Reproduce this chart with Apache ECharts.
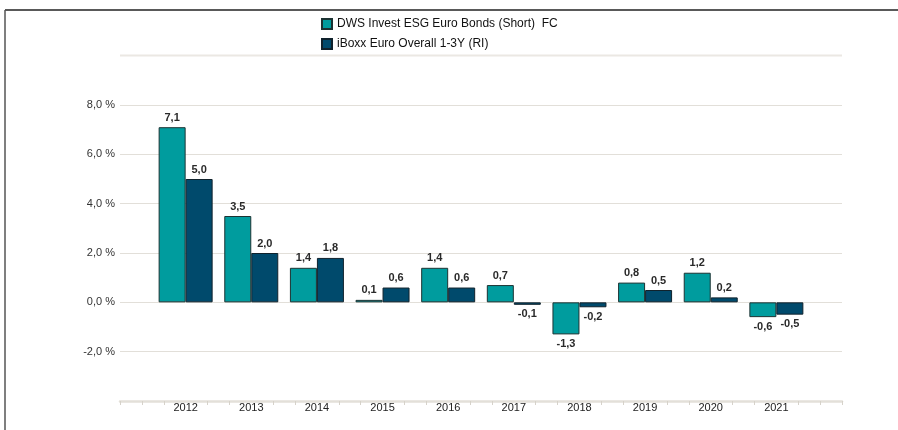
<!DOCTYPE html>
<html><head><meta charset="utf-8">
<script src="https://cdn.jsdelivr.net/npm/echarts@6/dist/echarts.min.js"></script>
<style>html,body{margin:0;padding:0;background:#fff}#c{width:898px;height:430px}</style>
</head><body><div id="c"></div>
<script>
const years = ['2012','2013','2014','2015','2016','2017','2018','2019','2020','2021'];
const seriesNames = ['DWS Invest ESG Euro Bonds (Short)  FC', 'iBoxx Euro Overall 1-3Y (RI)'];
const dwsValues = [7.1, 3.5, 1.4, 0.1, 1.4, 0.7, -1.3, 0.8, 1.2, -0.6];
const iboxxValues = [5.0, 2.0, 1.8, 0.6, 0.6, -0.1, -0.2, 0.5, 0.2, -0.5];
const yTicks = [-4, -2, 0, 2, 4, 6, 8];

const FONT = '"Liberation Sans", Arial, sans-serif';
const cats = [''].concat(years).concat(['']);
const fmt = v => v.toFixed(1).replace('.', ',');
function mk(vals) {
  return [null].concat(vals.map(v => ({
    value: v,
    label: { position: v < 0 ? 'bottom' : 'top' }
  }))).concat([null]);
}
const tickCats = [];
for (let i = 0; i <= 33; i++) tickCats.push(String(i));

const chart = echarts.init(document.getElementById('c'));
chart.setOption({
  animation: false,
  textStyle: { fontFamily: FONT },
  graphic: [
    { type: 'line', shape: { x1: 5, y1: 10, x2: 898, y2: 10 }, style: { stroke: '#222', lineWidth: 1.5 } },
    { type: 'line', shape: { x1: 5, y1: 10, x2: 5, y2: 430 }, style: { stroke: '#555', lineWidth: 1.5 } },
    { type: 'line', shape: { x1: 120, y1: 55.5, x2: 842, y2: 55.5 }, style: { stroke: '#ebe8e3', lineWidth: 2 } }
  ],
  legend: {
    orient: 'vertical', left: 316, top: 13, itemGap: 8,
    itemWidth: 10, itemHeight: 10,
    textStyle: { fontFamily: FONT, fontSize: 12, color: '#111' },
    data: seriesNames.map(n => ({ name: n, icon: 'rect' }))
  },
  grid: { left: 120, right: 56, top: 105, bottom: 29 },
  xAxis: [
    { type: 'category', data: cats, boundaryGap: false,
      axisLine: { show: false }, axisTick: { show: false },
      axisLabel: { color: '#222', fontSize: 11, margin: 1, fontFamily: FONT, interval: 0 },
      splitLine: { show: false } },
    { type: 'category', data: tickCats, boundaryGap: false, position: 'bottom',
      axisLine: { show: true, lineStyle: { color: '#e3e0d9', width: 2.5 } },
      axisTick: { show: true, length: 4, lineStyle: { color: '#d6d2ca', width: 1 },
        interval: (i) => (i % 3 !== 0) || i === 0 || i === 33 },
      axisLabel: { show: false }, splitLine: { show: false } }
  ],
  yAxis: {
    type: 'value', min: yTicks[0], max: yTicks[yTicks.length - 1], interval: 2,
    axisLine: { show: false }, axisTick: { show: false },
    axisLabel: { color: '#333', fontSize: 11, margin: 5, fontFamily: FONT,
      formatter: v => v === yTicks[0] ? '' : fmt(v) + ' %' },
    splitLine: { lineStyle: { color: '#e2dfd9', width: 1 } }
  },
  series: [
    { name: seriesNames[0], type: 'bar', data: mk(dwsValues), barWidth: 27, barGap: '0%',
      itemStyle: { color: '#009c9e', borderColor: '#1c3333', borderWidth: 1 },
      label: { show: true, color: '#2a2a2a', fontSize: 11, fontWeight: 'bold', distance: 4, fontFamily: FONT,
        formatter: p => fmt(p.value) } },
    { name: seriesNames[1], type: 'bar', data: mk(iboxxValues), barWidth: 27, barGap: '0%',
      itemStyle: { color: '#004a6c', borderColor: '#10222c', borderWidth: 1 },
      label: { show: true, color: '#2a2a2a', fontSize: 11, fontWeight: 'bold', distance: 4, fontFamily: FONT,
        formatter: p => fmt(p.value) } }
  ]
});
</script></body></html>
